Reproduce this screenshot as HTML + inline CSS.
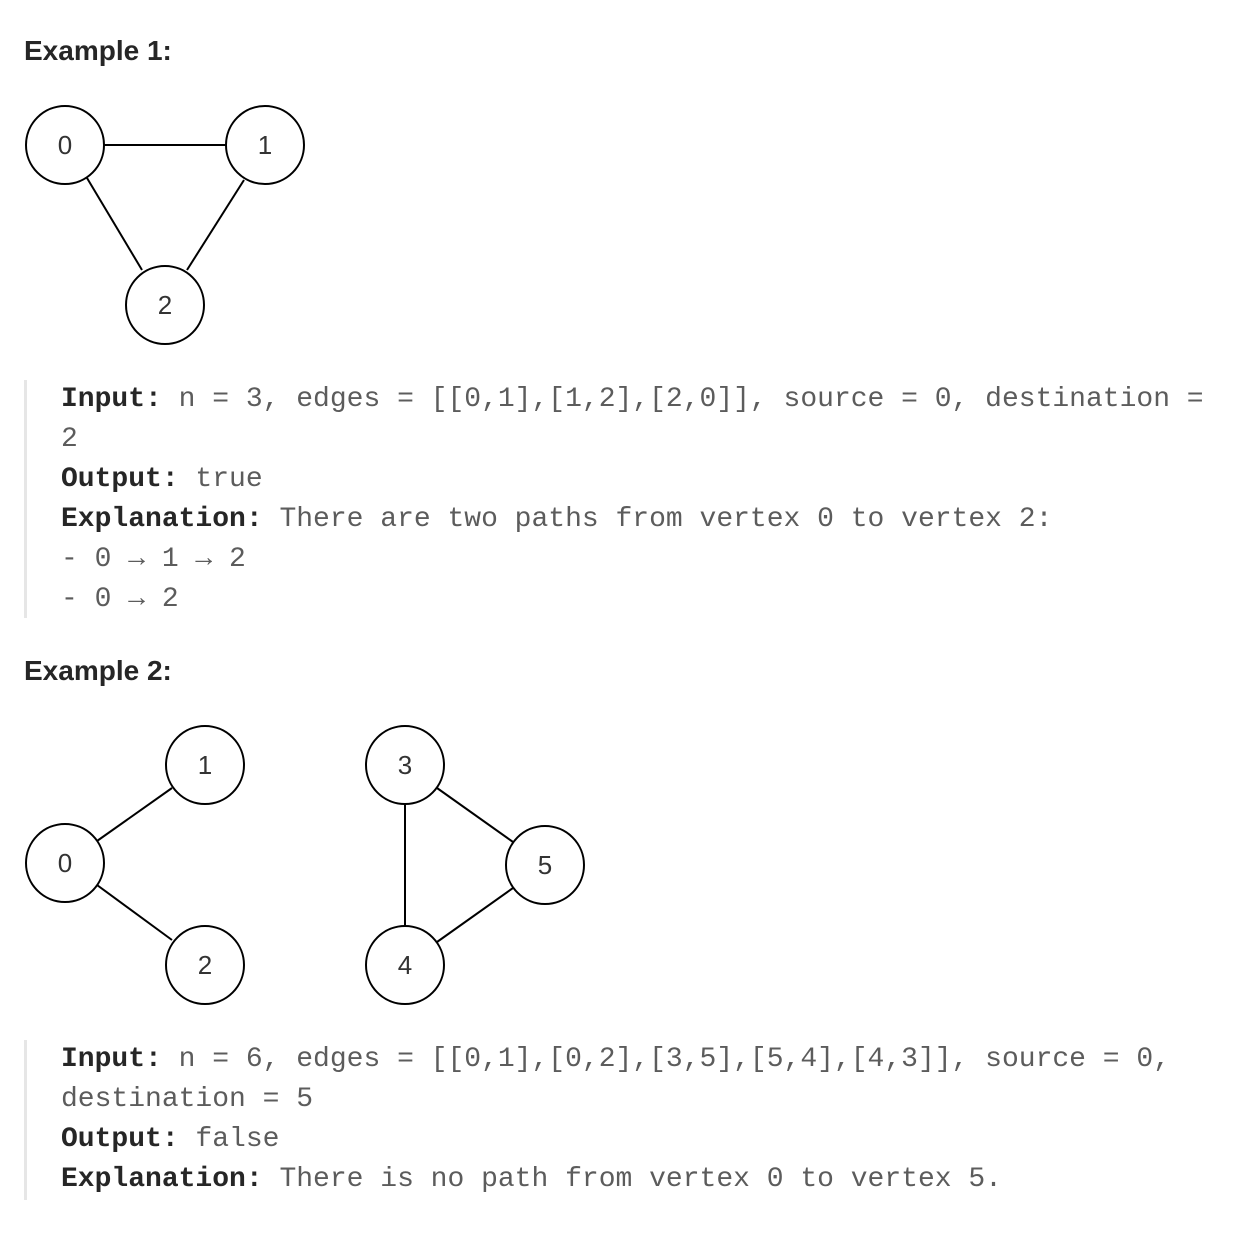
<!DOCTYPE html>
<html><head><meta charset="utf-8"><style>
body{margin:0;background:#fff;width:1236px;height:1246px;position:relative;overflow:hidden}
.h{position:absolute;left:24px;font:bold 28px "Liberation Sans",sans-serif;color:#262626}
.blk{position:absolute;left:24px;border-left:3px solid #e6e6e6;padding-left:34px;font:28px/40px "Liberation Mono",monospace;color:#5c5c5c;white-space:pre;width:1180px}
.blk b{color:#262626}
svg{position:absolute;left:0}
svg text{font:26px "Liberation Sans",sans-serif;fill:#333;text-anchor:middle;dominant-baseline:central}
</style></head><body>
<div class="h" style="top:35px">Example 1:</div>
<svg width="400" height="360" style="top:0">
<g stroke="#000" stroke-width="2" fill="none">
<line x1="104" y1="145" x2="226" y2="145"/><line x1="87" y1="178" x2="142" y2="270"/><line x1="244" y1="180" x2="187" y2="270"/>
</g>
<g stroke="#000" stroke-width="2" fill="#fff">
<circle cx="65" cy="145" r="39"/><circle cx="265" cy="145" r="39"/><circle cx="165" cy="305" r="39"/>
</g>
<text x="65" y="145">0</text><text x="265" y="145">1</text><text x="165" y="305">2</text>
</svg>
<div class="blk" style="top:380px;height:238px;box-sizing:border-box"><b>Input:</b> n = 3, edges = [[0,1],[1,2],[2,0]], source = 0, destination =
2
<b>Output:</b> true
<b>Explanation:</b> There are two paths from vertex 0 to vertex 2:
- 0 → 1 → 2
- 0 → 2</div>
<div class="h" style="top:655px">Example 2:</div>
<svg width="620" height="320" style="top:700px">
<g stroke="#000" stroke-width="2" fill="none">
<line x1="97" y1="141" x2="172" y2="88"/><line x1="97" y1="185" x2="172" y2="240"/>
<line x1="405" y1="104" x2="405" y2="226"/><line x1="437" y1="88" x2="513" y2="142"/><line x1="437" y1="242" x2="513" y2="188"/>
</g>
<g stroke="#000" stroke-width="2" fill="#fff">
<circle cx="65" cy="163" r="39"/><circle cx="205" cy="65" r="39"/><circle cx="205" cy="265" r="39"/>
<circle cx="405" cy="65" r="39"/><circle cx="405" cy="265" r="39"/><circle cx="545" cy="165" r="39"/>
</g>
<text x="65" y="163">0</text><text x="205" y="65">1</text><text x="205" y="265">2</text>
<text x="405" y="65">3</text><text x="405" y="265">4</text><text x="545" y="165">5</text>
</svg>
<div class="blk" style="top:1040px"><b>Input:</b> n = 6, edges = [[0,1],[0,2],[3,5],[5,4],[4,3]], source = 0,
destination = 5
<b>Output:</b> false
<b>Explanation:</b> There is no path from vertex 0 to vertex 5.</div>
</body></html>
